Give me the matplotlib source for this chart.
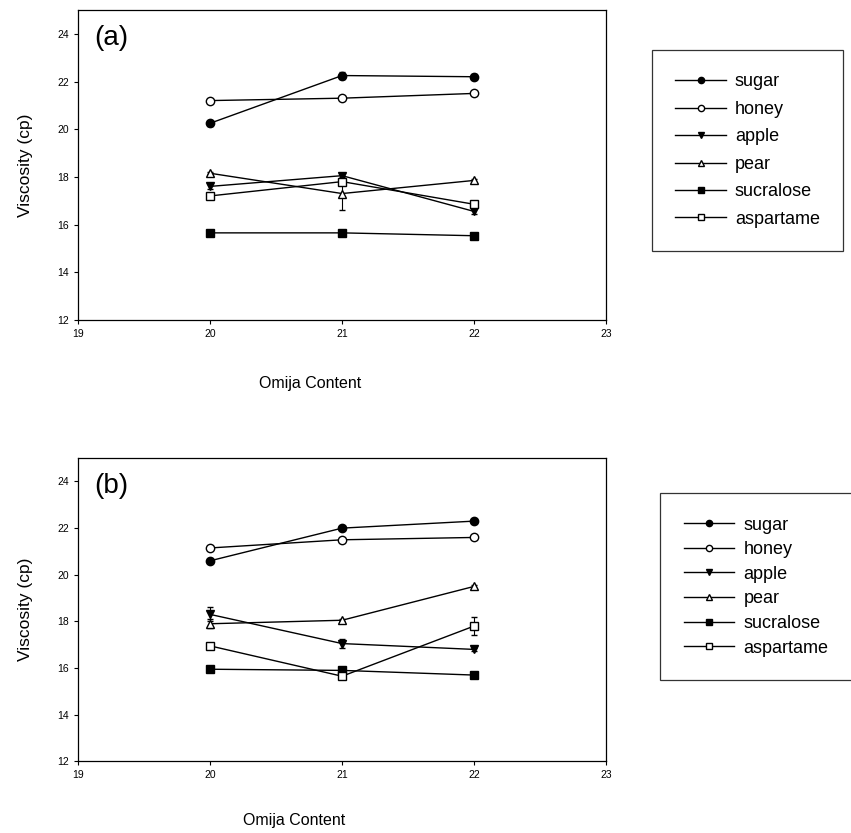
import matplotlib.pyplot as plt
import numpy as np

plt.rcParams['font.family'] = ['Liberation Sans', 'DejaVu Sans']

OMIJA = [20, 21, 22]
NAMES = ['sugar', 'honey', 'apple', 'pear', 'sucralose', 'aspartame']
MARKERS = ['o', 'o', 'v', '^', 's', 's']
FILLED = [True, False, True, False, True, False]

# panel (a)
VALS_A = [
    [20.25, 22.25, 22.2],
    [21.2, 21.3, 21.5],
    [17.6, 18.05, 16.55],
    [18.15, 17.3, 17.85],
    [15.65, 15.65, 15.53],
    [17.2, 17.8, 16.85],
]
ERR_A = [
    [0.1, 0.15, 0.1],
    [0.05, 0.05, 0.05],
    [0.1, 0.1, 0.1],
    [0.05, 0.7, 0.05],
    [0.05, 0.05, 0.05],
    [0.05, 0.1, 0.1],
]

# panel (b)
VALS_B = [
    [20.6, 22.0, 22.3],
    [21.15, 21.5, 21.6],
    [18.3, 17.05, 16.8],
    [17.9, 18.05, 19.5],
    [15.95, 15.9, 15.7],
    [16.95, 15.65, 17.8],
]
ERR_B = [
    [0.05, 0.05, 0.1],
    [0.05, 0.05, 0.05],
    [0.3, 0.2, 0.05],
    [0.2, 0.05, 0.05],
    [0.05, 0.05, 0.05],
    [0.05, 0.1, 0.4],
]


def panel(ax, vals, errs, tag, xlab_x, xlab_y):
    handles = []
    for i, name in enumerate(NAMES):
        fc = 'black' if FILLED[i] else 'white'
        h = ax.errorbar(OMIJA, vals[i], yerr=errs[i], color='black', lw=1.0,
                        marker=MARKERS[i], ms=6, mfc=fc, mec='black', mew=1.0,
                        capsize=2.5, elinewidth=0.8, label=name)
        handles.append(h)
    ax.set_xlim(19, 23)
    ax.set_ylim(12, 25)
    ax.set_xticks([19, 20, 21, 22, 23])
    ax.set_yticks([12, 14, 16, 18, 20, 22, 24])
    ax.tick_params(labelsize=7.5, direction='out', length=3, width=0.8)
    ax.set_xlabel('Omija Content', fontsize=11.5)
    ax.xaxis.set_label_coords(xlab_x, xlab_y)
    ax.set_ylabel('Viscosity (cp)', fontsize=12.5, labelpad=18)
    for s in ax.spines.values():
        s.set_linewidth(0.9)
    ax.text(0.03, 0.95, tag, transform=ax.transAxes, fontsize=20,
            va='top', ha='left')
    return handles


fig = plt.figure(figsize=(8.51, 8.33), dpi=100)
ax1 = fig.add_axes([0.092, 0.616, 0.62, 0.372])
ax2 = fig.add_axes([0.092, 0.086, 0.62, 0.364])

h1 = panel(ax1, VALS_A, ERR_A, '(a)', 0.44, -0.18)
h2 = panel(ax2, VALS_B, ERR_B, '(b)', 0.41, -0.17)

for h, x, y, sp in [(h1, 0.766, 0.94, 0.58), (h2, 0.776, 0.408, 0.42)]:
    leg = fig.legend(handles=[e[0] for e in h], labels=NAMES, loc='upper left',
                     bbox_to_anchor=(x, y), fontsize=13, frameon=True,
                     fancybox=False, edgecolor='black', handlelength=2.8,
                     borderpad=1.3, labelspacing=sp, handletextpad=0.5,
                     borderaxespad=0, markerscale=0.75)
    leg.get_frame().set_linewidth(0.9)

fig.savefig('out.png', dpi=100)
